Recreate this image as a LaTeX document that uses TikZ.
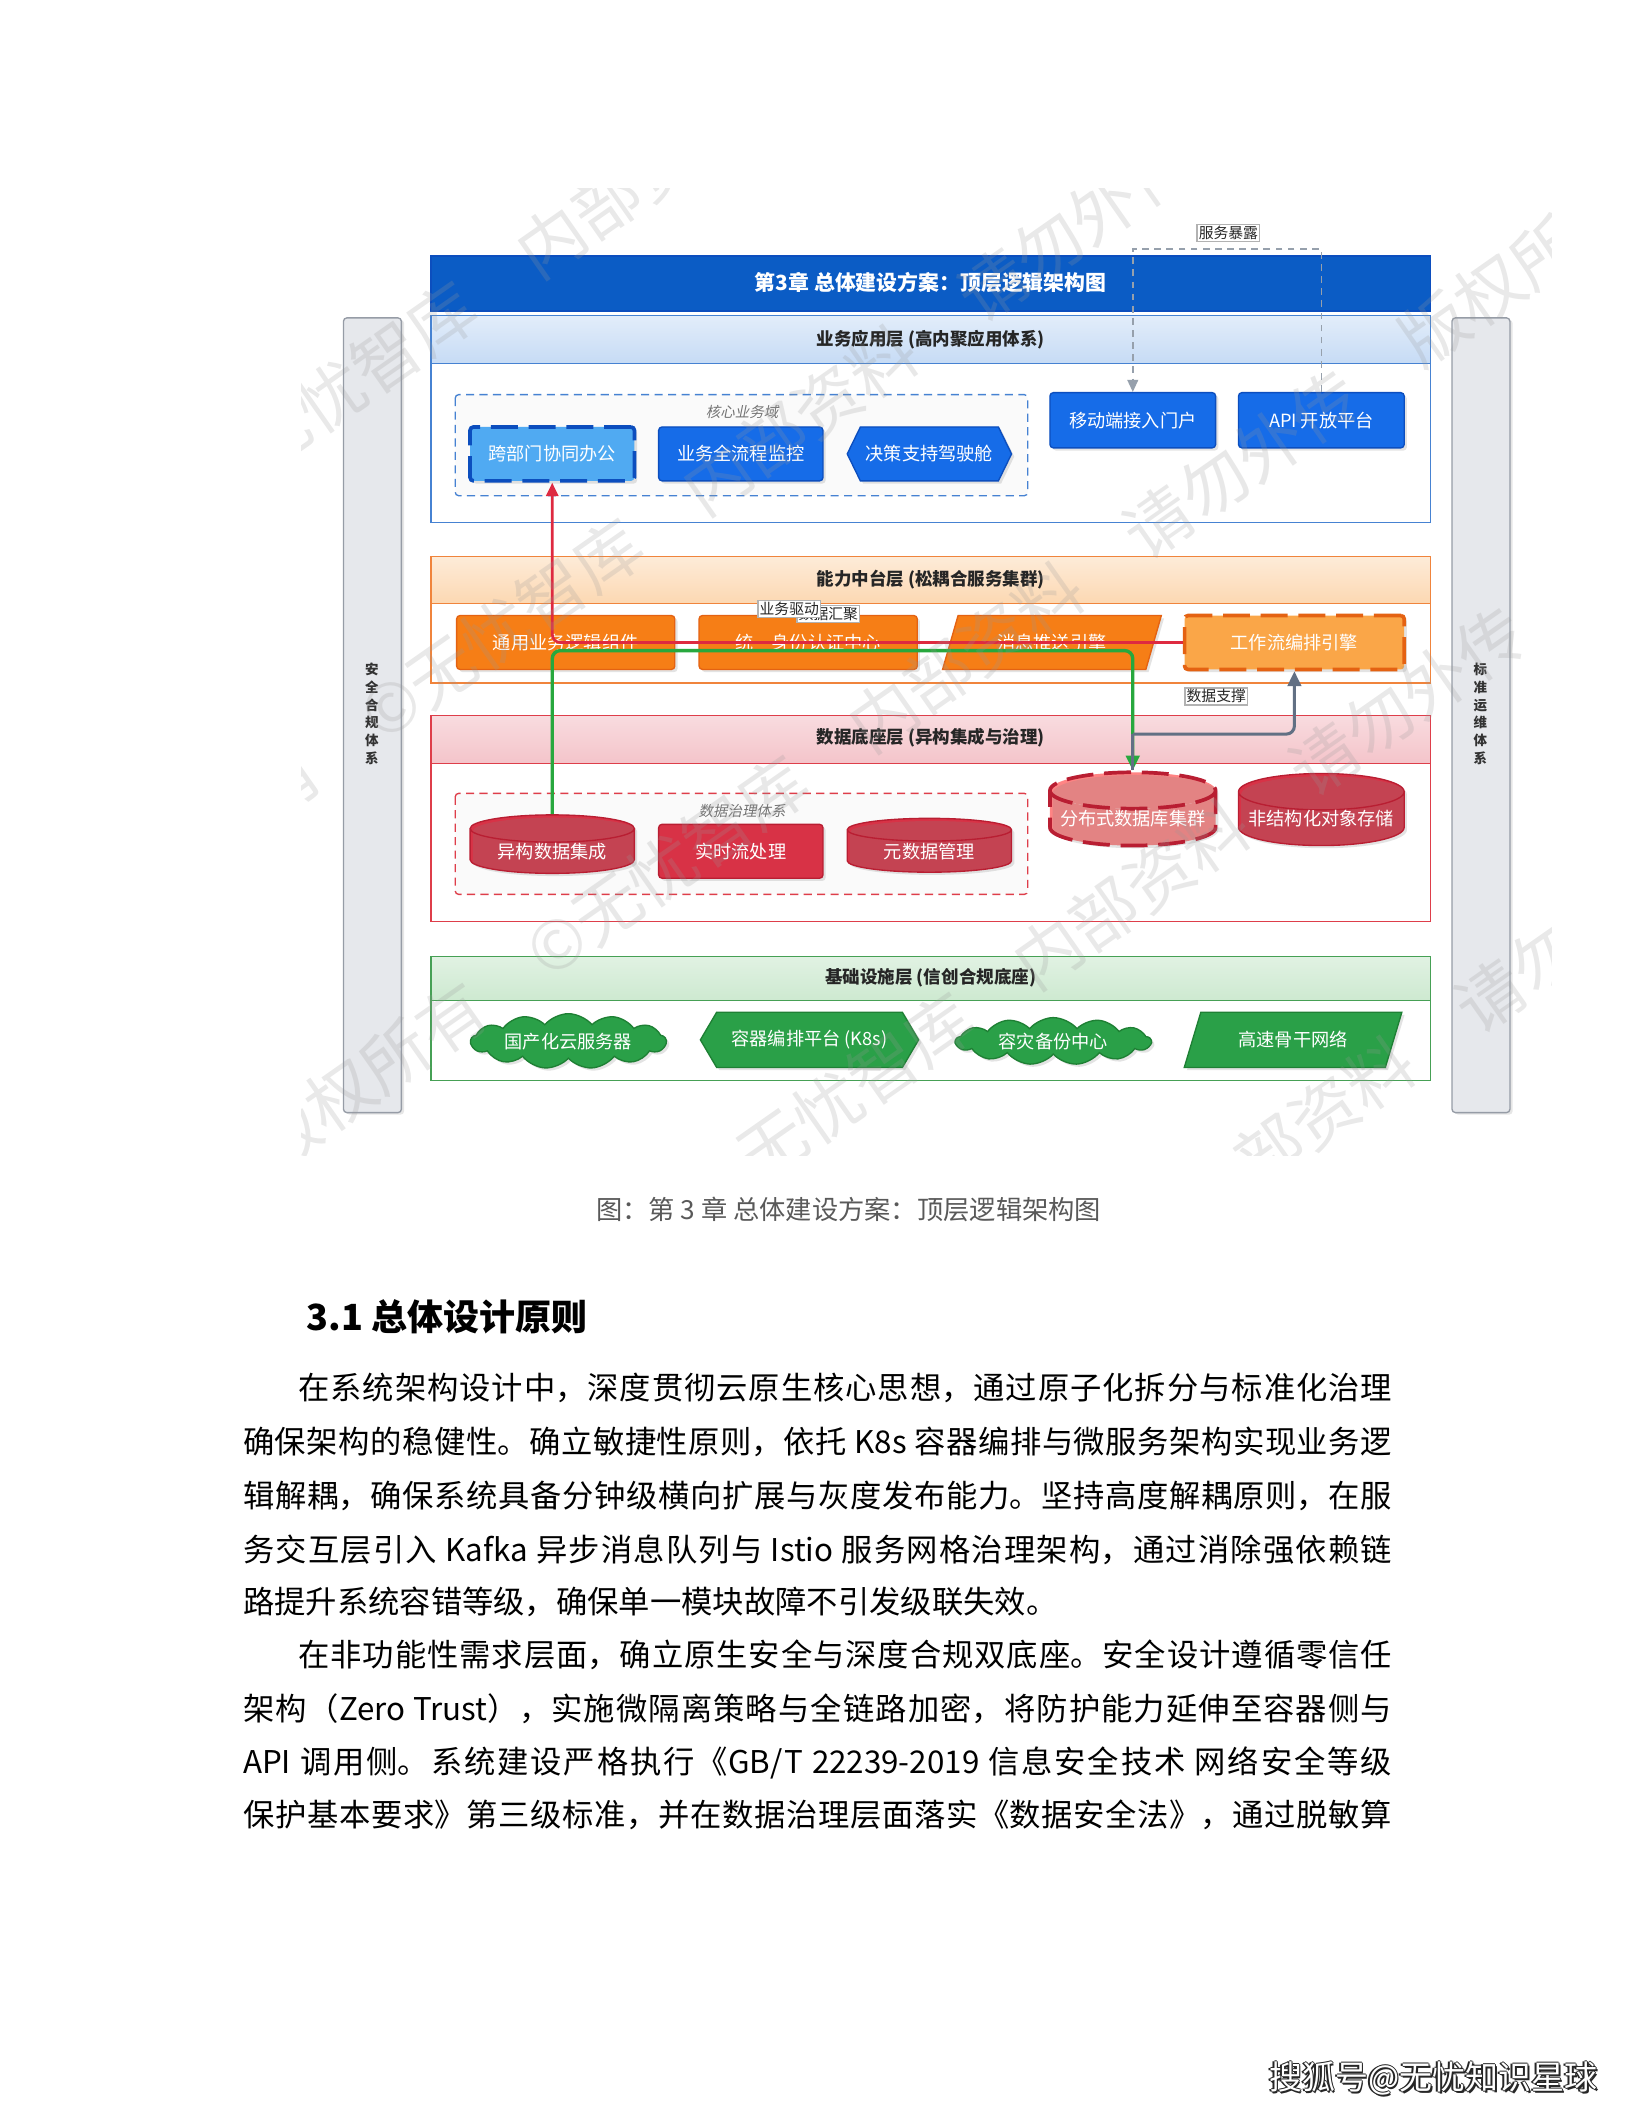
\documentclass[tikz,border=0pt]{standalone}
\usepackage{fontspec}
\setmainfont{Noto Sans CJK SC}
\newfontfamily\slantcjk[FakeSlant=0.2]{Noto Sans CJK SC}
\usetikzlibrary{shapes.geometric,shapes.symbols,shadows,arrows.meta}
\XeTeXlinebreaklocale "zh"
\XeTeXlinebreakskip=0pt plus 1pt

\definecolor{barblue}{RGB}{11,92,197}
\definecolor{appblue}{RGB}{22,108,232}
\definecolor{appdark}{RGB}{12,78,190}
\definecolor{applight}{RGB}{80,170,242}
\definecolor{appline}{RGB}{70,130,210}
\definecolor{apphead}{RGB}{198,219,245}
\definecolor{capor}{RGB}{246,126,22}
\definecolor{capdark}{RGB}{228,98,18}
\definecolor{caplight}{RGB}{250,166,72}
\definecolor{capline}{RGB}{240,132,60}
\definecolor{caphead}{RGB}{252,216,178}
\definecolor{datared}{RGB}{216,50,70}
\definecolor{datadark}{RGB}{185,30,50}
\definecolor{datalight}{RGB}{255,132,132}
\definecolor{dataline}{RGB}{222,62,74}
\definecolor{datahead}{RGB}{244,196,202}
\definecolor{infgreen}{RGB}{42,160,72}
\definecolor{infdark}{RGB}{30,128,52}
\definecolor{infline}{RGB}{70,160,85}
\definecolor{infhead}{RGB}{205,233,208}
\definecolor{sidegray}{RGB}{230,232,236}
\definecolor{sideline}{RGB}{150,156,166}
\definecolor{flowred}{RGB}{222,42,64}
\definecolor{flowgreen}{RGB}{40,168,62}
\definecolor{flowgray}{RGB}{98,112,132}
\definecolor{exposegray}{RGB}{150,160,172}

\newcommand\txtbody{\fontsize{9.3pt}{12pt}\selectfont}
\newcommand\justline{\noindent\parfillskip=0pt\relax}

\tikzset{every picture/.style={line width=0.4pt}}
\tikzset{
  unit/.style={minimum width=48.8pt,minimum height=16pt,inner sep=0pt,text=white,
    font=\fontsize{5.4pt}{6pt}\selectfont,
    drop shadow={opacity=0.22,shadow xshift=0.8pt,shadow yshift=-0.8pt}},
  appbox/.style={unit,rectangle,rounded corners=1pt,fill=appblue,draw=appdark},
  apphex/.style={unit,signal,signal to=west and east,signal pointer angle=128,fill=appblue,draw=appdark},
  capbox/.style={unit,rectangle,rounded corners=1pt,minimum width=64.8pt,fill=capor,draw=capdark},
  cappara/.style={unit,trapezium,trapezium left angle=62,trapezium right angle=118,
    trapezium stretches=true,minimum width=65.2pt,fill=capor,draw=capdark},
  datacyl/.style={unit,cylinder,shape border rotate=90,aspect=0.25,cylinder uses custom fill,
    cylinder body fill=datared,cylinder end fill=datared,draw=datadark},
  databox/.style={unit,rectangle,rounded corners=1pt,fill=datared,draw=datadark},
  infcloud/.style={unit,cloud,cloud puffs=13,cloud puff arc=100,aspect=5,
    minimum width=58pt,minimum height=12.4pt,fill=infgreen,draw=infdark},
  infhex/.style={unit,signal,signal to=west and east,signal pointer angle=119,
    minimum width=64.8pt,minimum height=16.4pt,fill=infgreen,draw=infdark},
  infpara/.style={unit,trapezium,trapezium left angle=60,trapezium right angle=120,
    trapezium stretches=true,minimum width=64.8pt,minimum height=16.4pt,fill=infgreen,draw=infdark},
  dashedge/.style={line width=1.1pt,dash pattern=on 8pt off 3.2pt},
  headtext/.style={font=\fontsize{5.2pt}{6pt}\selectfont\bfseries,text=black!85,inner sep=0pt},
  grouptext/.style={font=\fontsize{4.3pt}{5pt}\slantcjk,text=black!55,inner sep=0pt},
  sidetext/.style={font=\fontsize{4pt}{5.3pt}\selectfont\bfseries,text=black!80,align=center,inner sep=0pt},
  flowtag/.style={draw=black!30,fill=white,inner sep=0.5pt,text=black!85,
    font=\fontsize{4.4pt}{5pt}\selectfont},
  redflow/.style={flowred,line width=0.8pt,rounded corners=2.4pt,-{Triangle[length=4pt,width=3.6pt]}},
  greenflow/.style={flowgreen,line width=1pt,rounded corners=2.4pt,-{Triangle[length=4.4pt,width=4pt]}},
  grayflow/.style={flowgray,line width=0.9pt,rounded corners=2.4pt,-{Triangle[length=4.4pt,width=4pt]}},
  exposeflow/.style={exposegray,line width=0.5pt,dash pattern=on 2pt off 1.6pt,-{Triangle[length=3.6pt,width=3.2pt]}},
  wmark/.style={text=black!40,text opacity=0.22,rotate=35,font=\fontsize{20pt}{20pt}\selectfont,inner sep=0pt},
  bodyline/.style={anchor=base west,inner sep=0pt,text width=341.2pt,align=justify,font=\txtbody},
  bodyindent/.style={bodyline,text width=324.8pt},
}

\begin{document}
\begin{tikzpicture}[x=0.4pt,y=0.4pt,yscale=-1,xscale=1]
\useasboundingbox (0,0) rectangle (1212,1568);

%Side bars
\draw[sideline,fill=sidegray,rounded corners=1pt,drop shadow={opacity=0.2,shadow xshift=0.8pt,shadow yshift=-0.6pt}] (255,236) rectangle (298,826);
\draw[sideline,fill=sidegray,rounded corners=1pt,drop shadow={opacity=0.2,shadow xshift=0.8pt,shadow yshift=-0.6pt}] (1078,236) rectangle (1121,826);
\node[sidetext] (secside) at (276,530) {安\\全\\合\\规\\体\\系};
\node[sidetext] (opsside) at (1099,530) {标\\准\\运\\维\\体\\系};

%Title bar
\draw[appdark,fill=barblue] (320,190) rectangle (1062,231);
\node[font=\fontsize{6.2pt}{7pt}\selectfont\bfseries,text=white,inner sep=0pt] (title) at (691,210) {第3章 总体建设方案：顶层逻辑架构图};

%Layer: business application
\draw[appline,fill=white] (320,234) rectangle (1062,388);
\shade[top color=apphead!50,bottom color=apphead] (320,234) rectangle (1062,270);
\draw[appline] (320,234) rectangle (1062,270);
\node[headtext] (apphd) at (691,252) {业务应用层 (高内聚应用体系)};
\draw[appline,fill=black!2,dash pattern=on 2.4pt off 1.6pt,rounded corners=1pt] (338,293) rectangle (763,368);
\node[grouptext] (coregrp) at (551,306) {核心业务域};
\node[appbox,fill=applight,draw=appdark,dashedge] (cross) at (410,337) {跨部门协同办公};
\node[appbox] (monitor) at (550,337) {业务全流程监控};
\node[apphex] (cockpit) at (690,337) {决策支持驾驶舱};
\node[appbox,minimum height=16.4pt,minimum width=49.2pt] (mob) at (841,312) {移动端接入门户};
\node[appbox,minimum height=16.4pt,minimum width=49.2pt] (api) at (981,312) {API 开放平台};

%Layer: capability
\draw[capline,fill=white] (320,413) rectangle (1062,507);
\shade[top color=caphead!50,bottom color=caphead] (320,413) rectangle (1062,448);
\draw[capline] (320,413) rectangle (1062,448);
\node[headtext] (caphd) at (691,430) {能力中台层 (松耦合服务集群)};
\node[capbox] (common) at (420,477) {通用业务逻辑组件};
\node[capbox] (auth) at (600,477) {统一身份认证中心};
\node[cappara] (push) at (781,477) {消息推送引擎};
\node[capbox,fill=caplight,draw=capdark,dashedge,minimum width=65.2pt] (wf) at (961,477) {工作流编排引擎};

%Layer: data base
\draw[dataline,fill=white] (320,531) rectangle (1062,684);
\shade[top color=datahead!60,bottom color=datahead] (320,531) rectangle (1062,567);
\draw[dataline] (320,531) rectangle (1062,567);
\node[headtext] (datahd) at (691,548) {数据底座层 (异构集成与治理)};
\draw[dataline,fill=black!2,dash pattern=on 2.4pt off 1.6pt,rounded corners=1pt] (338,589) rectangle (763,664);
\node[grouptext] (govgrp) at (551,602) {数据治理体系};
\node[datacyl] (het) at (410,632) {异构数据集成};
\node[databox] (stream) at (550,632) {实时流处理};
\node[datacyl] (meta) at (690,632) {元数据管理};
\node[datacyl,cylinder body fill=datalight,cylinder end fill=datalight,dashedge,minimum width=49.2pt] (dbc) at (841,608) {分布式数据库集群};
\node[datacyl,minimum width=49.2pt] (obj) at (981,608) {非结构化对象存储};

%Layer: infrastructure
\draw[infline,fill=white] (320,710) rectangle (1062,802);
\shade[top color=infhead!60,bottom color=infhead] (320,710) rectangle (1062,743);
\draw[infline] (320,710) rectangle (1062,743);
\node[headtext] (infhd) at (691,726) {基础设施层 (信创合规底座)};
\node[infcloud] (cloudsrv) at (422,773) {国产化云服务器};
\node[infhex] (k8s) at (601,772) {容器编排平台 (K8s)};
\node[infcloud] (backup) at (782,773) {容灾备份中心};
\node[infpara] (net) at (960,772) {高速骨干网络};

%Connectors
\coordinate (exposetop) at (981,185);
\coordinate (gatherbend) at (0,483);
\coordinate (supportbend) at (0,545);
\draw[exposeflow] (api.north) -- (exposetop) -| (mob.north);
\draw[redflow] (wf.west) -| (cross.south);
\draw[greenflow] (het.north) -- (het.north |- gatherbend) -| (dbc.north);
\draw[grayflow,-] (dbc.north) -- (dbc.north |- supportbend);
\draw[grayflow] (dbc.north |- supportbend) -| (wf.south);

%Connector labels
\node[flowtag] (tagexpose) at (912,173) {服务暴露};
\node[flowtag] (taggather) at (615,456) {数据汇聚};
\node[flowtag] (tagdrive) at (586,452) {业务驱动};
\node[flowtag] (tagsupport) at (903,517) {数据支撑};

%Watermark
\begin{scope}
\clip (224,140) rectangle (1152,858);
\foreach \k [count=\i] in {-3,...,3}
  \node[wmark] (wm\i) at ({700+123*\k},{500+176*\k}) {版权所有　©无忧智库　内部资料　请勿外传　版权所有};
\end{scope}

%Caption and heading
\node[font=\fontsize{7.8pt}{9pt}\selectfont,text=black!65,inner sep=0pt] (caption) at (630,898) {图：第 3 章 总体建设方案：顶层逻辑架构图};
\node[anchor=base west,font=\fontsize{10.7pt}{12pt}\selectfont\bfseries,inner sep=0pt] (heading) at (227,988) {3.1 总体设计原则};

%Body text
\node[bodyindent] (p1a) at (221,1039) {\justline 在系统架构设计中，深度贯彻云原生核心思想，通过原子化拆分与标准化治理\par};
\node[bodyline] (p1b) at (180,1079) {\justline 确保架构的稳健性。确立敏捷性原则，依托 K8s 容器编排与微服务架构实现业务逻\par};
\node[bodyline] (p1c) at (180,1119) {\justline 辑解耦，确保系统具备分钟级横向扩展与灰度发布能力。坚持高度解耦原则，在服\par};
\node[bodyline] (p1d) at (180,1159) {\justline 务交互层引入 Kafka 异步消息队列与 Istio 服务网格治理架构，通过消除强依赖链\par};
\node[bodyline] (p1e) at (180,1198) {\noindent 路提升系统容错等级，确保单一模块故障不引发级联失效。};
\node[bodyindent] (p2a) at (221,1237) {\justline 在非功能性需求层面，确立原生安全与深度合规双底座。安全设计遵循零信任\par};
\node[bodyline] (p2b) at (180,1277) {\justline 架构（Zero Trust），实施微隔离策略与全链路加密，将防护能力延伸至容器侧与\par};
\node[bodyline] (p2c) at (180,1317) {\justline API 调用侧。系统建设严格执行《GB/T 22239-2019 信息安全技术 网络安全等级\par};
\node[bodyline] (p2d) at (180,1356) {\justline 保护基本要求》第三级标准，并在数据治理层面落实《数据安全法》，通过脱敏算\par};

%Footer mark
\foreach \dx/\dy [count=\i] in {-1/0,1/0,0/-1,0/1,1.4/1.4}
  \node[font=\fontsize{9.8pt}{11pt}\selectfont,text=black!85,inner sep=0pt,xshift=\dx*0.4pt,yshift=-\dy*0.4pt] (footsh\i) at (1064,1543) {搜狐号@无忧知识星球};
\node[font=\fontsize{9.8pt}{11pt}\selectfont,text=white,inner sep=0pt] (foot) at (1064,1543) {搜狐号@无忧知识星球};
\end{tikzpicture}
\end{document}
